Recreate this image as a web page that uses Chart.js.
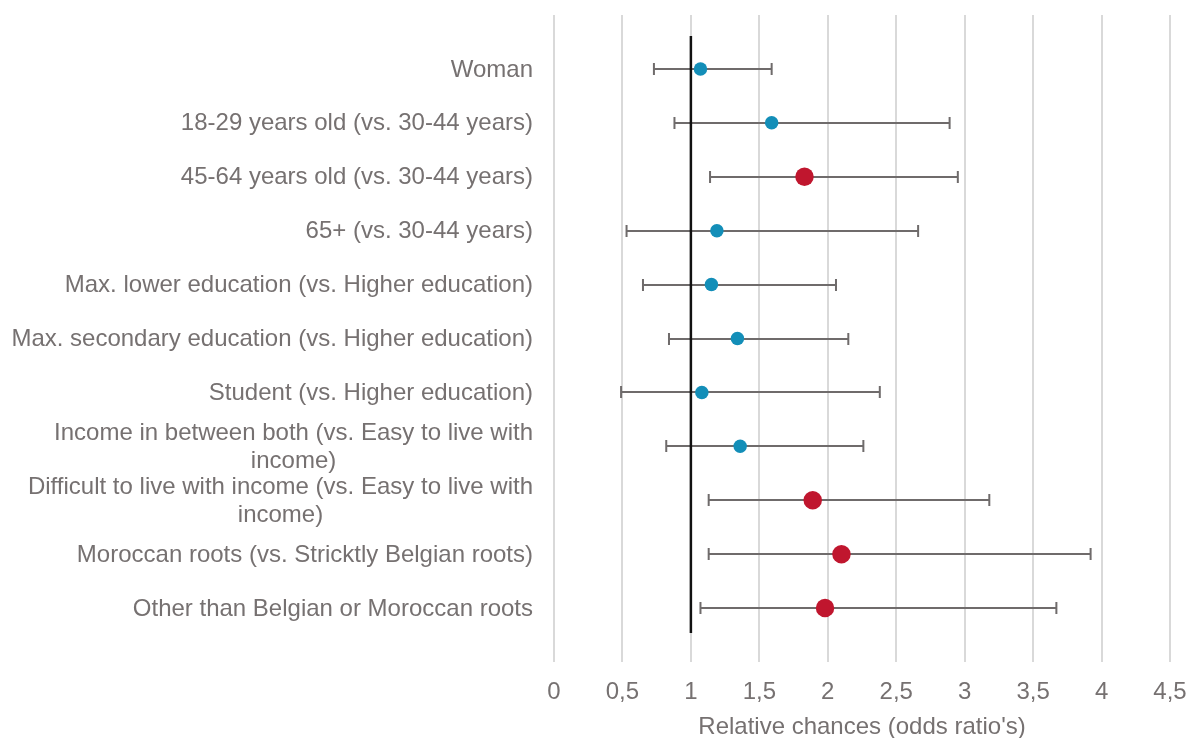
<!DOCTYPE html>
<html>
<head>
<meta charset="utf-8">
<script src="https://cdn.jsdelivr.net/npm/chart.js@4/dist/chart.umd.min.js"></script>
<style>
  html, body { margin: 0; padding: 0; background: #ffffff; }
  #wrap { width: 1194px; height: 738px; }
</style>
</head>
<body>
<div id="wrap"><canvas id="chart" width="1194" height="738"></canvas></div>
<script>
// Predictors (a label may hold several lines)
const categories = [
  'Woman',
  '18-29 years old (vs. 30-44 years)',
  '45-64 years old (vs. 30-44 years)',
  '65+ (vs. 30-44 years)',
  'Max. lower education (vs. Higher education)',
  'Max. secondary education (vs. Higher education)',
  'Student (vs. Higher education)',
  ['Income in between both (vs. Easy to live with', 'income)'],
  ['Difficult to live with income (vs. Easy to live with', 'income)'],
  'Moroccan roots (vs. Stricktly Belgian roots)',
  'Other than Belgian or Moroccan roots'
];

// Odds ratios with their 95% confidence bounds
const oddsRatios = [1.07, 1.59, 1.83, 1.19, 1.15, 1.34, 1.08, 1.36, 1.89, 2.10, 1.98];
const ciLower    = [0.73, 0.88, 1.14, 0.53, 0.65, 0.84, 0.49, 0.82, 1.13, 1.13, 1.07];
const ciUpper    = [1.59, 2.89, 2.95, 2.66, 2.06, 2.15, 2.38, 2.26, 3.18, 3.92, 3.67];

// Axis ticks
const xTicks = [0, 0.5, 1, 1.5, 2, 2.5, 3, 3.5, 4, 4.5];
const xTickLabels = ['0', '0,5', '1', '1,5', '2', '2,5', '3', '3,5', '4', '4,5'];

// Reference line (odds ratio = 1)
const refValue = 1;
const refSpan = [0.39, 11.46];

const TEXT = '#767171';
const FONT = '"Liberation Sans", Arial, Helvetica, sans-serif';
const BLUE = '#138eb8';
const RED = '#c0162e';

const isSignificant = i => ciLower[i] > 1 || ciUpper[i] < 1;

const points = oddsRatios.map((v, i) => ({ x: v, y: i + 1 }));

// Confidence interval whiskers, drawn below the markers
const errorBars = {
  id: 'errorBars',
  beforeDatasetsDraw(chart) {
    const { ctx, scales: { x, y } } = chart;
    ctx.save();
    ctx.strokeStyle = '#6f6b6b';
    ctx.lineWidth = 2;
    const cap = 6;
    for (let i = 0; i < oddsRatios.length; i++) {
      const py = Math.round(y.getPixelForValue(i + 1));
      const x0 = x.getPixelForValue(ciLower[i]);
      const x1 = x.getPixelForValue(ciUpper[i]);
      ctx.beginPath();
      ctx.moveTo(x0, py); ctx.lineTo(x1, py);
      ctx.moveTo(x0, py - cap); ctx.lineTo(x0, py + cap);
      ctx.moveTo(x1, py - cap); ctx.lineTo(x1, py + cap);
      ctx.stroke();
    }
    ctx.restore();
  }
};

// Category labels: right-aligned blocks, wrapped lines centred in their block
const categoryLabels = {
  id: 'categoryLabels',
  afterDraw(chart) {
    const { ctx, scales: { y }, chartArea } = chart;
    const right = chartArea.left - 21;
    const lineH = 28;
    ctx.save();
    ctx.font = '24px ' + FONT;
    ctx.fillStyle = TEXT;
    ctx.textBaseline = 'middle';
    ctx.textAlign = 'center';
    categories.forEach((label, i) => {
      const lines = Array.isArray(label) ? label : [label];
      const w = Math.max(...lines.map(l => ctx.measureText(l).width));
      const cx = right - w / 2;
      const cy = y.getPixelForValue(i + 1) + 1;
      lines.forEach((l, k) => {
        ctx.fillText(l, cx, cy + (k - (lines.length - 1) / 2) * lineH);
      });
    });
    ctx.restore();
  }
};

new Chart(document.getElementById('chart'), {
  type: 'scatter',
  data: {
    datasets: [
      {
        data: points,
        pointRadius: ctx => isSignificant(ctx.dataIndex) ? 9.25 : 6.75,
        pointBackgroundColor: ctx => isSignificant(ctx.dataIndex) ? RED : BLUE,
        pointBorderWidth: 0,
        pointHoverRadius: ctx => isSignificant(ctx.dataIndex) ? 9.25 : 6.75
      },
      {
        type: 'line',
        data: refSpan.map(v => ({ x: refValue, y: v })),
        borderColor: '#111111',
        borderWidth: 2.5,
        pointRadius: 0,
        fill: false
      }
    ]
  },
  options: {
    responsive: false,
    animation: false,
    events: [],
    layout: { padding: { top: 15, right: 24, bottom: 0, left: 0 } },
    plugins: { legend: { display: false }, tooltip: { enabled: false } },
    scales: {
      x: {
        type: 'linear',
        min: xTicks[0],
        max: xTicks[xTicks.length - 1],
        afterBuildTicks: s => { s.ticks = xTicks.map(v => ({ value: v })); },
        afterFit: s => { s.height = 76; s.paddingLeft = 0; s.paddingRight = 0; },
        ticks: {
          callback: v => xTickLabels[xTicks.indexOf(v)],
          color: TEXT,
          font: { family: FONT, size: 24 },
          padding: 16,
          maxRotation: 0,
          autoSkip: false
        },
        grid: { color: '#d9d9d9', lineWidth: 2, drawTicks: false },
        border: { display: false },
        title: {
          display: true,
          text: "Relative chances (odds ratio's)",
          color: TEXT,
          font: { family: FONT, size: 24, lineHeight: 0.92 },
          padding: { top: 0, bottom: 0 }
        }
      },
      y: {
        type: 'linear',
        min: 0,
        max: categories.length + 1,
        reverse: true,
        afterFit: s => { s.width = 554; },
        ticks: { display: false },
        grid: { display: false },
        border: { display: false }
      }
    }
  },
  plugins: [errorBars, categoryLabels]
});
</script>
</body>
</html>
